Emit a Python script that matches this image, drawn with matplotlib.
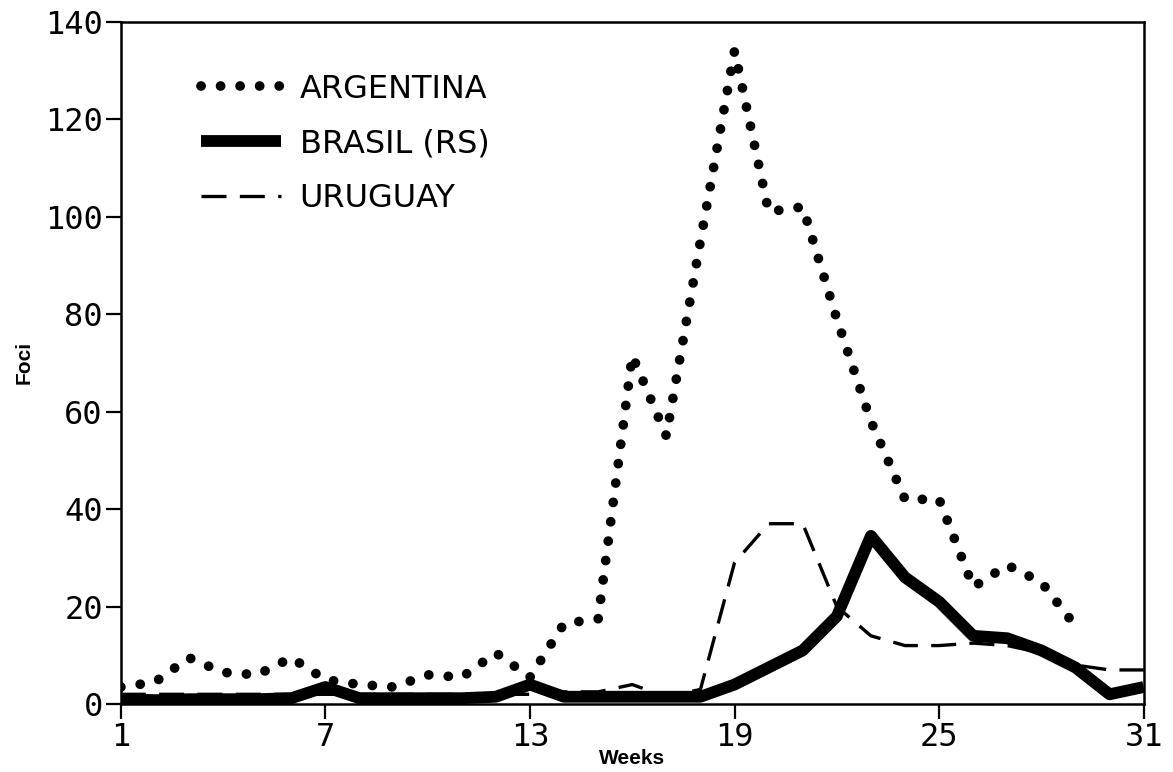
import matplotlib
matplotlib.use('Agg')
import matplotlib.pyplot as plt

# ----- data (weekly foci counts) -----
weeks_arg = list(range(1, 30))
argentina = [3.5, 4.5, 9.5, 6.5, 6, 9.5, 5, 4, 3.5, 6,
             5.5, 10.5, 5.5, 16.5, 17.5, 71.5, 55, 95, 134, 101,
             102, 79, 58, 42, 42, 24, 28.5, 25, 16]

weeks = list(range(1, 32))
brasil = [1, 0.8, 1, 1, 1, 1.2, 3.5, 1.2, 1.2, 1.2,
          1.2, 1.5, 4, 1.5, 1.5, 1.5, 1.5, 1.5, 4, 7.5,
          11, 18, 34.5, 26, 21, 14, 13.5, 11, 7.5, 2,
          3.5]
uruguay = [2, 2, 2, 2, 2, 2, 2, 2, 2, 2,
           2, 2, 2, 2.5, 2.5, 4, 1.5, 3, 29, 37,
           37, 20, 14, 12, 12, 12.5, 12, 10.5, 8, 7,
           7]

xticks = [1, 7, 13, 19, 25, 31]
yticks = list(range(0, 141, 20))

# ----- plot -----
fig = plt.figure(figsize=(11.73, 7.72), dpi=100)
ax = fig.add_axes([0.103, 0.088, 0.872, 0.884])

ax.plot(weeks, uruguay, color='black', lw=2.4, linestyle=(0, (7.5, 4)),
        label='URUGUAY', zorder=2)
ax.plot(weeks, brasil, color='black', lw=8.5, solid_joinstyle='round',
        solid_capstyle='butt', label='BRASIL (RS)', zorder=3)
# dotted line: near-zero dashes with round caps -> round dots
ax.plot(weeks_arg, argentina, color='black', lw=7,
        linestyle=(0, (0.01, 2.0)), dash_capstyle='round',
        label='ARGENTINA', zorder=4)

ax.set_xlim(1, 31)
ax.set_ylim(0, 140)
ax.set_xticks(xticks)
ax.set_yticks(yticks)

mono = 'DejaVu Sans Mono'
for lab in ax.get_xticklabels() + ax.get_yticklabels():
    lab.set_family(mono)
    lab.set_fontsize(23)
ax.tick_params(direction='out', length=11, width=1.6, pad=2)

for s in ax.spines.values():
    s.set_linewidth(1.8)

ax.set_xlabel('Weeks', fontsize=15, fontweight='bold', family='Liberation Sans',
              labelpad=-3)
ax.set_ylabel('Foci', fontsize=15, fontweight='bold', family='Liberation Sans',
              labelpad=8)

# legend in the order of the original
h, l = ax.get_legend_handles_labels()
order = [2, 1, 0]
leg = ax.legend([h[i] for i in order], [l[i] for i in order],
                loc='upper left', bbox_to_anchor=(0.05, 0.966),
                frameon=False, handlelength=2.5, handletextpad=0.6,
                labelspacing=0.75, prop={'family': 'DejaVu Sans', 'size': 23})

plt.savefig('out.png', dpi=100)
